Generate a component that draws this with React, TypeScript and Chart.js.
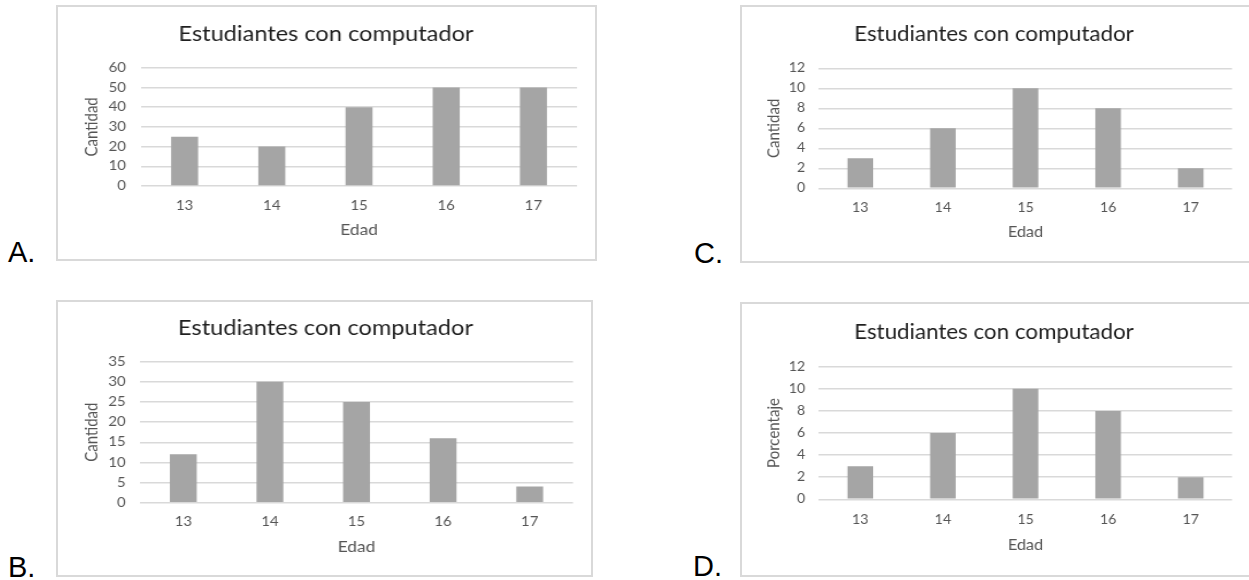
import React, { useEffect, useRef } from 'react';
import { Chart, registerables } from 'chart.js';

Chart.register(...registerables);

// ---- data ----
const edades = ['13', '14', '15', '16', '17'];
const cantidadA = [25, 20, 40, 50, 50];
const cantidadB = [12, 30, 25, 16, 4];
const cantidadC = [3, 6, 10, 8, 2];
const porcentajeD = [3, 6, 10, 8, 2];

const tituloGrafico = 'Estudiantes con computador';
const tituloEjeX = 'Edad';
const tituloCantidad = 'Cantidad';
const tituloPorcentaje = 'Porcentaje';

// y-axis ranges: [min, max, step]
const rangoA = [0, 60, 10];
const rangoB = [0, 35, 5];
const rangoC = [0, 12, 2];
const rangoD = [0, 12, 2];

// ---- styling ----
const FONT = 'Lato, "Noto Sans", sans-serif';
const TITLE_SIZE = 20.5;
const TICK_SIZE = 13;
const AXIS_TITLE_SIZE = 15;
const LH = 1.2;
const BAR_COLOR = '#a5a5a5';
const GRID_COLOR = '#d9d9d9';
const TEXT_GRAY = '#555555';
const BORDER_COLOR = '#d9d9d9';

interface Rect { left: number; top: number; width: number; height: number }
interface PanelCfg {
  tag: string;
  tagPos: { left: number; baseline: number };
  values: number[];
  range: number[];
  yTitle: string;
  box: Rect;
  sx: number; // horizontal stretch of the drawing
  plot: { left: number; right: number; top: number; bottom: number };
  titleCX: number;
  titleCY: number;
  yTitleX: number;
  tickRight: number;
  xTickY: number;
  xTitleY: number;
}

const panels: PanelCfg[] = [
  {
    tag: 'A.', tagPos: { left: 8, baseline: 261.5 },
    values: cantidadA, range: rangoA, yTitle: tituloCantidad,
    box: { left: 56, top: 5, width: 541, height: 256 }, sx: 1.15,
    plot: { left: 141, right: 577, top: 67.7, bottom: 186 },
    titleCX: 326, titleCY: 34, yTitleX: 92, tickRight: 126, xTickY: 206, xTitleY: 230,
  },
  {
    tag: 'B.', tagPos: { left: 8, baseline: 577 },
    values: cantidadB, range: rangoB, yTitle: tituloCantidad,
    box: { left: 56, top: 300, width: 537, height: 277 }, sx: 1.15,
    plot: { left: 140, right: 573, top: 361.7, bottom: 502.7 },
    titleCX: 325.5, titleCY: 328, yTitleX: 92, tickRight: 125.7, xTickY: 522, xTitleY: 547,
  },
  {
    tag: 'C.', tagPos: { left: 694, baseline: 262.5 },
    values: cantidadC, range: rangoC, yTitle: tituloCantidad,
    box: { left: 740, top: 5, width: 560, height: 258 }, sx: 1.09,
    plot: { left: 819, right: 1232, top: 68.3, bottom: 188.3 },
    titleCX: 994, titleCY: 34.5, yTitleX: 774.4, tickRight: 805.3, xTickY: 208, xTitleY: 232,
  },
  {
    tag: 'D.', tagPos: { left: 693, baseline: 575.5 },
    values: porcentajeD, range: rangoD, yTitle: tituloPorcentaje,
    box: { left: 740, top: 302, width: 560, height: 275 }, sx: 1.09,
    plot: { left: 819, right: 1232, top: 366.7, bottom: 499.3 },
    titleCX: 994, titleCY: 332.5, yTitleX: 774, tickRight: 805.3, xTickY: 520, xTitleY: 545,
  },
];

function buildConfig(p: PanelCfg, cw: number) {
  const X = (x: number) => (x - p.box.left) / p.sx;
  const titleLH = TITLE_SIZE * LH;
  const tickLH = TICK_SIZE * LH;
  const axisLH = AXIS_TITLE_SIZE * LH;

  const plotL = X(p.plot.left);
  const plotR = X(p.plot.right);
  const padLeft = 2 * X(p.titleCX) - plotR;
  const padRight = cw - plotR;
  const yAxisWidth = plotL - padLeft;
  const yTitlePad = X(p.yTitleX) - padLeft - axisLH / 2;
  const yTickPad = plotL - X(p.tickRight);

  const plotT = p.plot.top - p.box.top;
  const plotB = p.plot.bottom - p.box.top;
  const titlePadTop = p.titleCY - p.box.top - titleLH / 2;
  const titlePadBottom = plotT - titlePadTop - titleLH;
  const xTickPad = p.xTickY - p.plot.bottom - tickLH / 2;
  const xAxisHeight = p.xTitleY - p.plot.bottom + axisLH / 2;
  const padBottom = p.box.height - plotB - xAxisHeight;

  const [min, max, step] = p.range;

  return {
    type: 'bar' as const,
    data: {
      labels: edades,
      datasets: [{
        data: p.values,
        backgroundColor: BAR_COLOR,
        borderWidth: 0,
        barPercentage: 0.31,
        categoryPercentage: 1,
      }],
    },
    options: {
      responsive: false,
      maintainAspectRatio: false,
      animation: false as const,
      events: [],
      layout: { padding: { left: padLeft, right: padRight, top: 0, bottom: padBottom } },
      plugins: {
        legend: { display: false },
        tooltip: { enabled: false },
        title: {
          display: true,
          text: tituloGrafico,
          color: '#1f1f1f',
          font: { family: FONT, size: TITLE_SIZE, weight: 'normal' as const, lineHeight: LH },
          padding: { top: titlePadTop, bottom: titlePadBottom },
        },
      },
      scales: {
        x: {
          grid: { display: false, drawTicks: false },
          border: { display: false },
          ticks: {
            color: TEXT_GRAY,
            font: { family: FONT, size: TICK_SIZE, lineHeight: LH },
            padding: xTickPad,
            maxRotation: 0,
            autoSkip: false,
          },
          title: {
            display: true,
            text: tituloEjeX,
            color: TEXT_GRAY,
            font: { family: FONT, size: AXIS_TITLE_SIZE, lineHeight: LH },
            padding: { top: 0, bottom: 0 },
          },
          afterFit: (s: any) => { s.height = xAxisHeight; },
        },
        y: {
          min, max,
          grid: { color: GRID_COLOR, lineWidth: 1.5, drawTicks: false },
          border: { display: false },
          ticks: {
            stepSize: step,
            color: TEXT_GRAY,
            font: { family: FONT, size: TICK_SIZE, lineHeight: LH },
            padding: yTickPad,
          },
          title: {
            display: true,
            text: p.yTitle,
            color: TEXT_GRAY,
            font: { family: FONT, size: AXIS_TITLE_SIZE, lineHeight: LH },
            padding: { top: yTitlePad, bottom: 0 },
          },
          afterFit: (s: any) => { s.width = yAxisWidth; },
        },
      },
    },
  };
}

function Panel({ p }: { p: PanelCfg }) {
  const ref = useRef<HTMLCanvasElement>(null);
  const cw = Math.ceil(p.box.width / p.sx);
  const ch = p.box.height;

  useEffect(() => {
    if (!ref.current) return;
    const chart = new Chart(ref.current, buildConfig(p, cw) as any);
    return () => chart.destroy();
  }, [p, cw]);

  return (
    <>
      <div
        style={{
          position: 'absolute',
          left: p.box.left,
          top: p.box.top,
          width: p.box.width,
          height: p.box.height,
          border: `2px solid ${BORDER_COLOR}`,
          boxSizing: 'border-box',
        }}
      />
      <canvas
        ref={ref}
        width={cw}
        height={ch}
        style={{
          position: 'absolute',
          left: p.box.left,
          top: p.box.top,
          width: cw,
          height: ch,
          transform: `scaleX(${p.sx})`,
          transformOrigin: '0 0',
        }}
      />
      <div
        style={{
          position: 'absolute',
          left: p.tagPos.left,
          top: p.tagPos.baseline - 24,
          fontFamily: '"Liberation Sans", Arial, sans-serif',
          fontSize: 29,
          lineHeight: '29px',
          color: '#000',
          whiteSpace: 'nowrap',
        }}
      >
        {p.tag}
      </div>
    </>
  );
}

export default function App() {
  return (
    <div
      style={{
        position: 'fixed',
        left: 0,
        top: 0,
        width: 1249,
        height: 580,
        overflow: 'hidden',
        background: '#fff',
      }}
    >
      {panels.map((p) => (
        <Panel key={p.tag} p={p} />
      ))}
    </div>
  );
}
